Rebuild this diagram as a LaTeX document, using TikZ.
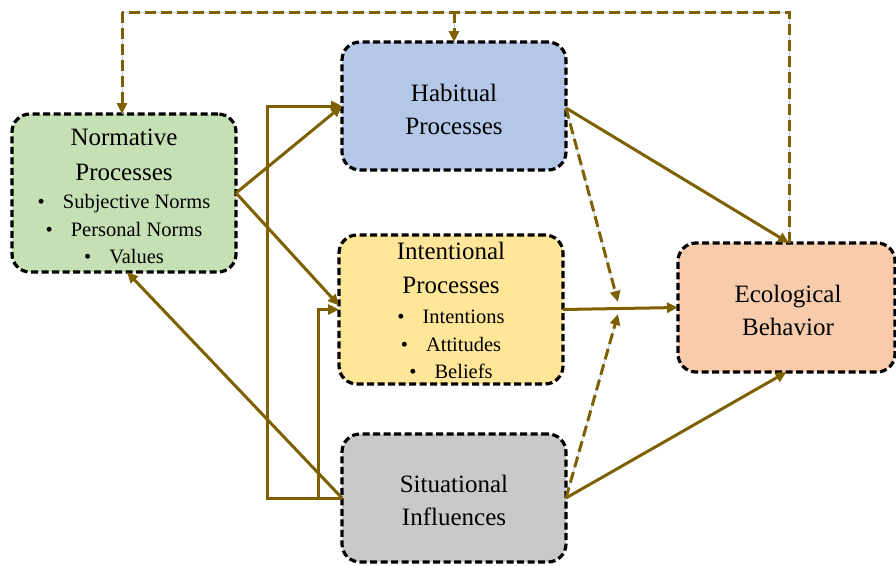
\documentclass[tikz,border=0pt]{standalone}
\usepackage{fontspec}
\setmainfont{Liberation Serif}
\usetikzlibrary{arrows.meta,calc}

\definecolor{linkcol}{RGB}{127,96,0}
\definecolor{gapcol}{RGB}{190,205,232}
\definecolor{normfill}{HTML}{C5E0B4}
\definecolor{habitfill}{HTML}{B4C7E7}
\definecolor{intentfill}{HTML}{FFE699}
\definecolor{situfill}{HTML}{C9C9C9}
\definecolor{ecofill}{HTML}{F8CBAD}

\tikzset{
  box/.style={draw=black, line width=3.2pt, dash pattern=on 7pt off 3.5pt,
    rounded corners=18pt, inner sep=0pt, outer sep=0pt},
  title/.style={font=\fontsize{25}{30}\selectfont, anchor=base, inner sep=0pt},
  item/.style={font=\fontsize{20.5}{24}\selectfont, anchor=base, inner sep=0pt},
  link/.style={draw=linkcol, line width=3pt,
    -{Triangle[length=11pt,width=10pt]}},
  dlink/.style={link, dash pattern=on 11pt off 5pt},
  gapline/.style={draw=gapcol, line width=0.8pt},
}
\newcommand{\bul}[1]{\textbullet\hspace{18pt}#1}

\begin{document}
\begin{tikzpicture}[x=1pt,y=-1pt]
\useasboundingbox (0,0) rectangle (896,565);

% boxes
\node[box, fill=normfill,   minimum width=224pt, minimum height=158pt] (norm)   at (124,193) {};
\node[box, fill=habitfill,  minimum width=224pt, minimum height=128pt] (habit)  at (454,106) {};
\node[box, fill=intentfill, minimum width=224pt, minimum height=149pt] (intent) at (451,309.5) {};
\node[box, fill=situfill,   minimum width=224pt, minimum height=128pt] (situ)   at (454,498) {};
\node[box, fill=ecofill,    minimum width=217pt, minimum height=129pt] (eco)    at (786.5,307.5) {};

% texts
\node[title] (normA) at (124,145) {Normative};
\node[title] (normB) at (124,180) {Processes};
\node[item]  (normC) at (124,208) {\bul{Subjective Norms}};
\node[item]  (normD) at (124,236) {\bul{Personal Norms}};
\node[item]  (normE) at (124,263) {\bul{Values}};

\node[title] (habA) at (454,101) {Habitual};
\node[title] (habB) at (454,134) {Processes};

\node[title] (intA) at (451,259) {Intentional};
\node[title] (intB) at (451,293) {Processes};
\node[item]  (intC) at (451,323) {\bul{Intentions}};
\node[item]  (intD) at (451,351) {\bul{Attitudes}};
\node[item]  (intE) at (451,378) {\bul{Beliefs}};

\node[title] (sitA) at (454,492) {Situational};
\node[title] (sitB) at (454,525) {Influences};

\node[title] (ecoA) at (788,302) {Ecological};
\node[title] (ecoB) at (788,335) {Behavior};

% helper points
\coordinate (J)  at (618,308);
\coordinate (tl) at (122,12);
\coordinate (tm) at (454,12);
\coordinate (tr) at (789,12);

% feedback loop along the top
\draw[gapline] ($(eco.north)+(2.5,0)$) -- (tr) -- (tl) -- ($(norm.north)+(-2,0)$);
\draw[gapline] (tm) -- (habit.north);
\draw[dlink, -] ($(eco.north)+(2.5,0)$) -- (tr) -- (tl);
\draw[dlink] (tl) -- ($(norm.north)+(-2,0)$);
\draw[dlink] (tm) -- (habit.north);

% normative influences
\draw[link] (norm.east) -- (habit.west);
\draw[link] (norm.east) -- ($(intent.west)+(0,-4)$);
\draw[link] (situ.west) -- ($(norm.south)+(3,0)$);

% situational brackets
\draw[link] (situ.west) -- ++(-75,0) |- (habit.west);
\draw[link] ($(situ.west)+(-24,0)$) |- (intent.west);

% paths to behaviour
\draw[link] ($(habit.east)+(0,2)$) -- ($(eco.north)+(2.5,0)$);
\draw[link] (intent.east) -- (eco.west);
\draw[link] (situ.east) -- (eco.south);

% moderating paths
\draw[gapline] ($(habit.east)+(0,2)$) -- ($(J)+(0,-6)$);
\draw[gapline] (situ.east) -- ($(J)+(0,6)$);
\draw[dlink] ($(habit.east)+(0,2)$) -- ($(J)+(0,-6)$);
\draw[dlink] (situ.east) -- ($(J)+(0,6)$);
\end{tikzpicture}
\end{document}
